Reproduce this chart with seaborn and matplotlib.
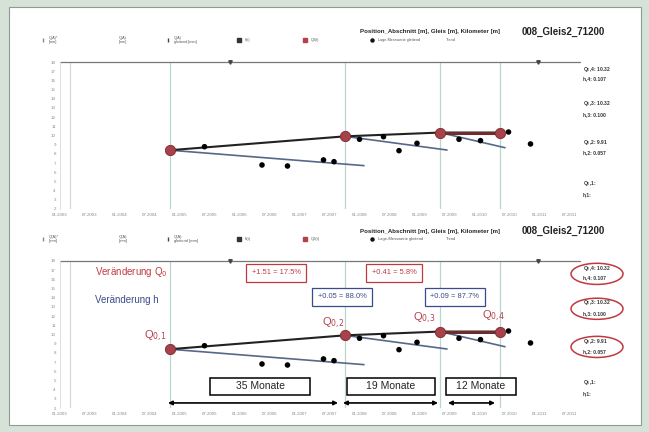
import numpy as np
import pandas as pd
import seaborn as sns
import matplotlib.pyplot as plt
from matplotlib.patches import Rectangle, Ellipse

# months counted from the left edge of the time axis
q_month = [22, 57, 76, 88]
q_value = [8.40, 9.91, 10.32, 10.32]
q_names = ["Q$_{0{,}1}$", "Q$_{0{,}2}$", "Q$_{0{,}3}$", "Q$_{0{,}4}$"]

pt_month = [28.9, 40.4, 45.5, 52.7, 54.8, 59.9, 64.7, 67.8, 71.4, 79.8, 84.1, 89.7, 94.1]
pt_value = [8.78, 6.79, 6.68, 7.34, 7.15, 9.59, 9.87, 8.35, 9.15, 9.59, 9.44, 10.38, 9.08]

# regression lines (h) starting at each Q0 point
h_start_month = [22, 57, 76]
h_start_value = [8.40, 9.91, 10.32]
h_end_month = [60.8, 77.4, 89.0]
h_end_value = [6.72, 8.42, 8.67]

top_mark_month = [34, 95.6]

dq_text = ["+1.51 = 17.5%", "+0.41 = 5.8%"]
dh_text = ["+0.05 = 88.0%", "+0.09 = 87.7%"]
period_text = ["35 Monate", "19 Monate", "12 Monate"]

x_ticks = np.arange(0, 103, 6)
x_labels = ["01.2003", "07.2003", "01.2004", "07.2004", "01.2005", "07.2005",
            "01.2006", "07.2006", "01.2007", "07.2007", "01.2008", "07.2008",
            "01.2009", "07.2009", "01.2010", "07.2010", "01.2011", "07.2011"]
y_ticks = np.arange(2, 19, 1)

side_q = ["Q$_0$,4: 10.32", "Q$_0$,3: 10.32", "Q$_0$,2: 9.91", "Q$_0$,1:"]
side_h = ["h,4: 0.107", "h,3: 0.100", "h,2: 0.057", "h,1:"]

legend_labels = ["Q(A)*\n[mm]", "Q(A)\n[mm]", "Q(A)\ngleitend [mm]", "h(t)", "Q0(t)",
                 "Lage-Messwerte gleitend", "Trend"]
title_text = "Position_Abschnitt [m], Gleis [m], Kilometer [m]"
track_text = "008_Gleis2_71200"

RED = "#c0393f"
BLUE = "#3b4a8a"
W, H = 649, 432

sns.set_theme(style="white")
plt.rcParams["font.family"] = ["Liberation Sans", "DejaVu Sans"]

fig = plt.figure(figsize=(W / 100, H / 100), dpi=100)
fig.patch.set_facecolor("#d6e2d8")
fig.patches.append(Rectangle((9 / W, 1 - 425 / H), 632 / W, 418 / H, transform=fig.transFigure,
                             facecolor="white", edgecolor="#8d9c92", lw=0.8, zorder=-10))

q_df = pd.DataFrame({"month": q_month, "value": q_value})
pt_df = pd.DataFrame({"month": pt_month, "value": pt_value})
h_df = pd.DataFrame({
    "month": [m for pair in zip(h_start_month, h_end_month) for m in pair],
    "value": [v for pair in zip(h_start_value, h_end_value) for v in pair],
    "seg": [i for i in range(len(h_start_month)) for _ in range(2)],
})


def fx(x):
    return x / W


def fy(y):
    return 1 - y / H


def draw_panel(top_px, annotated):
    ax = fig.add_axes([fx(60), fy(top_px + 147), 520 / W, 147 / H])
    ax.set_zorder(2)
    ax.set_facecolor("none")
    ax.set_xlim(0, 104)
    ax.set_ylim(2, 18)

    for m in q_month:
        ax.axvline(m, color="#b9d6cf", lw=0.9, zorder=1)
    ax.axvline(2, color="#d0d8d4", lw=0.8, zorder=1)
    ax.axhline(18, color="#777777", lw=0.9, clip_on=False, zorder=2)
    ax.plot(top_mark_month, [18, 18], ls="none", marker="v", ms=2.5, color="#444444", clip_on=False)

    sns.lineplot(data=h_df, x="month", y="value", units="seg", estimator=None,
                 color="#56688a", lw=1.2, ax=ax, zorder=3)
    sns.lineplot(data=q_df, x="month", y="value", sort=False, estimator=None,
                 color="#222222", lw=1.5, ax=ax, zorder=3)
    sns.lineplot(data=q_df.iloc[2:], x="month", y="value", sort=False, estimator=None,
                 color="#6e2d2d", lw=2.2, ax=ax, zorder=3)
    sns.scatterplot(data=pt_df, x="month", y="value", color="black", s=16,
                    edgecolor="none", ax=ax, zorder=4)
    sns.scatterplot(data=q_df, x="month", y="value", color="#a8424a", s=55,
                    edgecolor="#7a2a30", linewidth=0.6, ax=ax, zorder=5)

    ax.set_xticks(x_ticks)
    ax.set_xticklabels(x_labels, fontsize=3.2, color="#8a8a8a")
    ax.set_yticks(y_ticks)
    ax.set_yticklabels([str(v) for v in y_ticks], fontsize=3.2, color="#8a8a8a")
    ax.tick_params(length=0, pad=3)
    ax.set_xlabel("")
    ax.set_ylabel("")
    for s in ["top", "right", "bottom"]:
        ax.spines[s].set_visible(False)
    ax.spines["left"].set_color("#d8dcda")
    ax.spines["left"].set_linewidth(0.6)

    # right side parameter labels
    rows = [(17.13, 16.15), (13.43, 12.23), (9.19, 8.10), (4.73, 3.53)]
    for (yq, yh), tq, th in zip(rows, side_q, side_h):
        ax.text(104.6, yq, tq, fontsize=3.6, fontweight="bold", color="#333333", va="center")
        ax.text(104.6, yh, th, fontsize=3.6, fontweight="bold", color="#333333", va="center")

    # header row
    ty = top_px - 30
    fig.text(fx(500), fy(ty), title_text, fontsize=4.4, fontweight="bold", ha="right", va="center")
    fig.text(fx(522), fy(ty), track_text, fontsize=7, fontweight="bold", ha="left", va="center",
             color="#222222")
    ly = top_px - 22
    lx = [43, 113, 168, 239, 305, 372, 440]
    lm = ["|", "", "|", "s", "s", "o", ""]
    lc = ["#888888", "#888888", "#444444", "#333333", "#b5404a", "#111111", "#888888"]
    for x, m, c, lab in zip(lx, lm, lc, legend_labels):
        if m:
            fig.lines.append(plt.Line2D([fx(x)], [fy(ly)], marker=m, ms=2.2, color=c, mec=c,
                                        transform=fig.transFigure))
        fig.text(fx(x + 6), fy(ly), lab, fontsize=2.9 if annotated else 2.7,
                 color="#555555", va="center", linespacing=0.9)

    if not annotated:
        return ax

    ax.text(7, 16.8, "Veränderung Q$_0$", fontsize=7, color=RED, va="center")
    ax.text(7, 13.76, "Veränderung h", fontsize=7, color=BLUE, va="center")
    for x, t in zip([43.2, 66.8], dq_text):
        ax.text(x, 16.7, t, fontsize=5.4, color=RED, ha="center", va="center",
                bbox=dict(boxstyle="square,pad=0.75", fc="white", ec=RED, lw=0.9))
    for x, t in zip([56.4, 79.0], dh_text):
        ax.text(x, 14.1, t, fontsize=5.4, color=BLUE, ha="center", va="center",
                bbox=dict(boxstyle="square,pad=0.75", fc="white", ec=BLUE, lw=0.9))
    for (x, y), t in zip([(19, 9.84), (54.6, 11.25), (72.8, 11.8), (86.6, 12.0)], q_names):
        ax.text(x, y, t, fontsize=8, color="#b5404a", ha="center", va="center")

    boxes = [(30, 50), (57.4, 75), (77.2, 91.2)]
    for (x0, x1), t in zip(boxes, period_text):
        ax.add_patch(Rectangle((x0, 3.42), x1 - x0, 1.85, fc="white", ec="black", lw=1.1, zorder=5))
        ax.text((x0 + x1) / 2, 4.35, t, fontsize=7.5, ha="center", va="center", zorder=6)
    arrows = [(21.6, 55.6), (56.6, 75.6), (77.6, 87)]
    for x0, x1 in arrows:
        ax.annotate("", xy=(x1, 2.55), xytext=(x0, 2.55),
                    arrowprops=dict(arrowstyle="<|-|>", color="black", lw=1.2,
                                    mutation_scale=6, shrinkA=0, shrinkB=0))
    for y in [16.6, 12.8, 8.65]:
        ax.add_patch(Ellipse((107.4, y), 10.4, 2.3, fill=False, ec=RED, lw=1.1, clip_on=False))
    return ax


draw_panel(62, False)
draw_panel(261, True)

plt.savefig("out.png", dpi=100)
